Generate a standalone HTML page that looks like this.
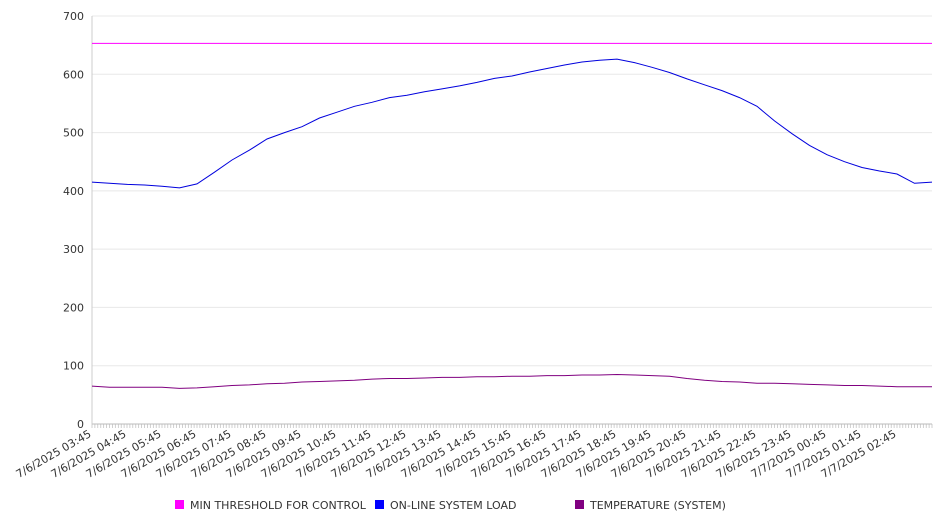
<!DOCTYPE html>
<html><head><meta charset="utf-8"><style>
body{margin:0;background:#fff;}
svg{display:block;font-family:"DejaVu Sans","Liberation Sans",sans-serif;}
</style></head><body>
<svg id="chart" width="946" height="526"></svg>
<script>
const yTicks=[0,100,200,300,400,500,600,700];
const xLabels=["7/6/2025 03:45","7/6/2025 04:45","7/6/2025 05:45","7/6/2025 06:45","7/6/2025 07:45","7/6/2025 08:45","7/6/2025 09:45","7/6/2025 10:45","7/6/2025 11:45","7/6/2025 12:45","7/6/2025 13:45","7/6/2025 14:45","7/6/2025 15:45","7/6/2025 16:45","7/6/2025 17:45","7/6/2025 18:45","7/6/2025 19:45","7/6/2025 20:45","7/6/2025 21:45","7/6/2025 22:45","7/6/2025 23:45","7/7/2025 00:45","7/7/2025 01:45","7/7/2025 02:45"];
const threshold=653;
const systemLoad=[415,413,411,410,408,405,412,432,453,470,489,500,510,525,535,545,552,560,564,570,575,580,586,593,597,604,610,616,621,624,626,620,612,603,592,582,572,560,545,520,498,478,462,450,440,434,429,413,415];
const temperature=[65,63,63,63,63,61,62,64,66,67,69,70,72,73,74,75,77,78,78,79,80,80,81,81,82,82,83,83,84,84,85,84,83,82,78,75,73,72,70,70,69,68,67,66,66,65,64,64,64];
const NS="http://www.w3.org/2000/svg";
const svg=document.getElementById('chart');
const X0=92,X1=932,Y0=424,Y1=16;
const hours=24;
function xh(h){return X0+(X1-X0)*h/hours;}
function y(v){return Y0-(Y0-Y1)*v/700;}
function mk(t,a,p){const e=document.createElementNS(NS,t);for(const k in a)e.setAttribute(k,a[k]);(p||svg).appendChild(e);return e;}
yTicks.forEach(v=>{
  const g=mk('line',{x1:X0,x2:X1,y1:y(v),y2:y(v),stroke:v===0?'#bbb':'#e8e8e8','stroke-width':1});
  
  
  const t=mk('text',{x:84,y:y(v)+4,'text-anchor':'end','font-size':11,fill:'#333'});
  t.textContent=v;
  
  
});
const ax=mk('line',{x1:X0,x2:X0,y1:Y1,y2:Y0,stroke:'#ccc'});


let tp='';
for(let i=0;i<=288;i++){const xx=X0+(X1-X0)*i/288;tp+=`M${xx.toFixed(1)} ${Y0}v4`;}
const tk=mk('path',{d:tp,stroke:'#bbb','stroke-width':0.7});


xLabels.forEach((l,i)=>{
  const xx=xh(i);
  const t=mk('text',{x:xx,y:Y0+12,'text-anchor':'end','font-size':11,fill:'#333',transform:`rotate(-30 ${xx} ${Y0+12})`});
  t.textContent=l;
  
  
});
const th=mk('line',{x1:X0,x2:X1,y1:y(threshold),y2:y(threshold),stroke:'#ff00ff','stroke-width':1});


function series(arr,color,name){
  const n=arr.length-1;
  const d=arr.map((v,i)=>(i?'L':'M')+xh(hours*i/n).toFixed(1)+' '+y(v).toFixed(1)).join('');
  const p=mk('path',{d:d,fill:'none',stroke:color,'stroke-width':1});
  
  
}
series(systemLoad,'#0000dd','system-load-line');
series(temperature,'#800080','temperature-line');
const leg=[["MIN THRESHOLD FOR CONTROL","#ff00ff",175],["ON-LINE SYSTEM LOAD","#0000ff",375],["TEMPERATURE (SYSTEM)","#800080",575]];
leg.forEach(l=>{
  const g=mk('g',{});
  
  
  mk('rect',{x:l[2],y:500,width:9,height:9,fill:l[1]},g);
  const t=mk('text',{x:l[2]+15,y:509,'font-size':11,fill:'#333'},g);
  t.textContent=l[0];
});
</script>
</body></html>
